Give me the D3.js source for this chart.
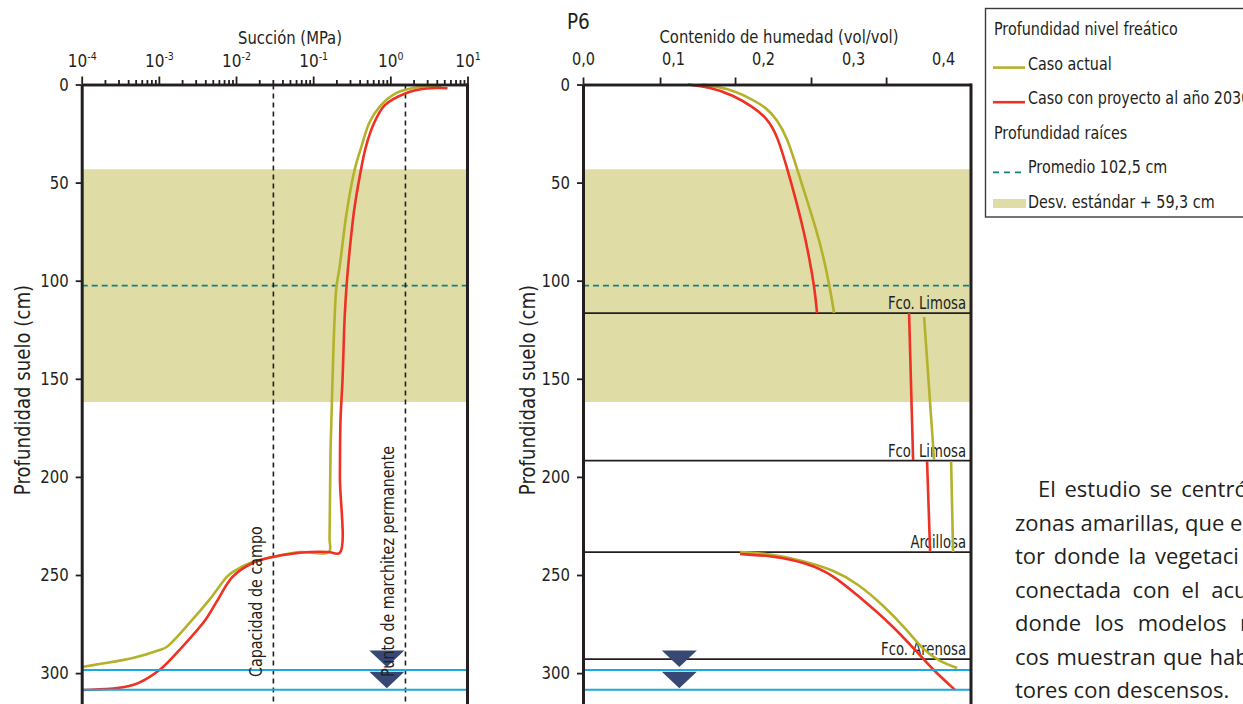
<!DOCTYPE html>
<html><head><meta charset="utf-8">
<script src="https://cdn.jsdelivr.net/npm/d3@7"></script>
<style>
html,body{margin:0;padding:0;background:#fff;overflow:hidden}
svg{display:block}
.nar{font-family:"Liberation Sans Narrow","Arial Narrow","DejaVu Sans Condensed",sans-serif;fill:#231f20}
.body{font-family:"Open Sans","Noto Sans",sans-serif;fill:#231f20}
</style></head><body>
<svg id="c" width="1243" height="704"></svg>
<script>
// ---------------- DATA ----------------
const depthTicks = [0, 50, 100, 150, 200, 250, 300];
const suctionDecadeExps = [-4, -3, -2, -1, 0, 1];
const moistureTickLabels = [0, 0.1, 0.2, 0.3, 0.4];
const moistureTickMarks = [0, 0.0856, 0.1689, 0.2533, 0.3367]; // tick marks as drawn in the figure
const depthMax = 316;
const suctionDomain = [1e-4, 10];
const moistureMax = 0.431;

const fieldCapacity = 0.0305;   // MPa
const wiltingPoint = 1.57;      // MPa
const rootMean = 102.5;         // cm
const rootSD = 59.3;            // cm
const waterTableActual = 298.4; // cm
const waterTableProject = 308.5;// cm
const markerSuction = 0.9;      // MPa, position of water-table symbols
const markerMoisture = 0.107;

const layerBounds = [116.5, 191.7, 238.3, 292.9];
const layerNames = ["Fco. Limosa", "Fco. Limosa", "Arcillosa", "Fco. Arenosa"];

// suction profile [MPa, depth cm]
const suctionActual = [[4.6,0.8],[2.39,1.3],[1.20,4.3],[0.72,11.5],[0.54,19.1],[0.42,31.9],[0.344,43.6],
  [0.271,65.5],[0.22,93.0],[0.20,103.2],[0.189,120],[0.178,150.6],[0.168,186],[0.163,231],[0.16,238.3],
  [0.067,238.3],[0.030,240.8],[0.0164,243.4],[0.0090,248.5],[0.0076,251],[0.0045,262.7],[0.0027,272.9],
  [0.00126,286.7],[0.00102,288.2],[0.00046,292.3],[0.00017,295.4],[0.0001,296.9]];
const suctionProject = [[5.5,1.9],[2.94,2.0],[1.62,4.3],[0.85,10.5],[0.61,20],[0.48,32],[0.40,47.1],
  [0.34,63.9],[0.30,82.8],[0.27,103.2],[0.255,120],[0.24,150.6],[0.226,171],[0.222,200],[0.22,238.8],
  [0.158,238.3],[0.09,238.3],[0.030,240.8],[0.0164,243.9],[0.0090,251],[0.0058,262.7],[0.0040,272.9],
  [0.0020,286.7],[0.00102,298.4],[0.00046,306.1],[0.0001,308.6]];

// moisture profile by soil layer [vol/vol, depth cm]
const moistureActual = [
  [[0.1322,0],[0.16,1.8],[0.1856,6.9],[0.2044,12.0],[0.2156,18.1],[0.2267,26.8],[0.2389,44.6],[0.2495,59.9],[0.2585,73.1],[0.2667,86.9],[0.2744,103.8],[0.2789,116.5]],
  [[0.3789,118.5],[0.39,191.4]],
  [[0.4089,191.9],[0.4111,238.3]],
  [[0.1744,238.3],[0.2111,239.3],[0.2489,243.4],[0.2778,247.4],[0.3044,254.1],[0.3333,265.3],[0.36,278],[0.3778,288.2],[0.3967,294.3],[0.4156,297.4]]
];
const moistureProject = [
  [[0.1167,0],[0.1411,1.3],[0.1667,5.4],[0.1889,11.5],[0.2044,17.1],[0.2156,25.7],[0.2267,42.6],[0.2372,59.9],[0.2455,75.2],[0.2522,90.5],[0.2572,103.8],[0.26,116.5]],
  [[0.3622,116.5],[0.3667,191.4]],
  [[0.3822,191.9],[0.3856,238.3]],
  [[0.1744,239.3],[0.2111,240.3],[0.2489,243.9],[0.2778,250],[0.3044,260.2],[0.3411,274.5],[0.3711,289.2],[0.3889,298.4],[0.4133,308.6]]
];

const legendItems = [
  {type:"head", label:"Profundidad nivel freático"},
  {type:"line", key:"actual", label:"Caso actual"},
  {type:"line", key:"project", label:"Caso con proyecto al año 2030"},
  {type:"head", label:"Profundidad raíces"},
  {type:"dash", key:"mean", label:"Promedio 102,5 cm"},
  {type:"band", key:"sd", label:"Desv. estándar + 59,3 cm"}
];
const bodyLines = ["El estudio se centró", "zonas amarillas, que e", "tor donde la vegetaci",
  "conectada con el acu", "donde los modelos n", "cos muestran que hab", "tores con descensos."];

// ---------------- STYLE ----------------
const INK = "#231f20", OLIVE = "#b4b12a", RED = "#ee3124", TEAL = "#17807f",
      BAND = "#dfdca6", BLUE = "#1ba8e0", NAVY = "#364873";
const bodyWordSpacing = [3, 0, 3, 6, 8, 1.5, 0];

// narrow the fallback font horizontally to mimic a condensed face
function condense(sel, k) {
  sel.each(function () {
    const L = this.getComputedTextLength();
    d3.select(this).attr("textLength", L * k).attr("lengthAdjust", "spacingAndGlyphs");
  });
}

const svg = d3.select("#c");
const y = d3.scaleLinear().domain([0, depthMax]).range([84.5, 84.5 + depthMax * 1.962]);
const xL = d3.scaleLog().domain(suctionDomain).range([81.7, 467.5]);
const xR = d3.scaleLinear().domain([0, moistureMax]).range([583, 971]);

function panel(g, x0, x1) {
  g.append("rect").attr("x", x0).attr("width", x1 - x0)
    .attr("y", y(rootMean - rootSD)).attr("height", y(rootMean + rootSD) - y(rootMean - rootSD))
    .attr("fill", BAND);
  g.append("line").attr("x1", x0).attr("x2", x1).attr("y1", y(rootMean)).attr("y2", y(rootMean))
    .attr("stroke", TEAL).attr("stroke-width", 1.8).attr("stroke-dasharray", "6,4");
}

// ===== LEFT PANEL =====
const gL = svg.append("g");
panel(gL, xL.range()[0], xL.range()[1]);
[fieldCapacity, wiltingPoint].forEach(v => {
  gL.append("line").attr("x1", xL(v)).attr("x2", xL(v)).attr("y1", y(0)).attr("y2", y(depthMax))
    .attr("stroke", INK).attr("stroke-width", 1.6).attr("stroke-dasharray", "5,4");
});
const lineL = d3.line().x(d => xL(d[0])).y(d => y(d[1])).curve(d3.curveCatmullRom.alpha(0.5));
gL.append("path").attr("d", lineL(suctionActual)).attr("fill", "none").attr("stroke", OLIVE).attr("stroke-width", 2.6);
gL.append("path").attr("d", lineL(suctionProject)).attr("fill", "none").attr("stroke", RED).attr("stroke-width", 2.6);

// ===== RIGHT PANEL =====
const gR = svg.append("g");
panel(gR, xR.range()[0], xR.range()[1]);
layerBounds.forEach((d, i) => {
  gR.append("line").attr("x1", xR.range()[0]).attr("x2", xR.range()[1]).attr("y1", y(d)).attr("y2", y(d))
    .attr("stroke", INK).attr("stroke-width", 1.8);
  gR.append("text").attr("class", "nar lay").attr("x", xR.range()[1] - 5).attr("y", y(d) - 4)
    .attr("text-anchor", "end").attr("font-size", 17.5).text(layerNames[i]);
});
const lineR = d3.line().x(d => xR(d[0])).y(d => y(d[1])).curve(d3.curveBasis);
moistureActual.forEach(seg => gR.append("path").attr("d", lineR(seg)).attr("fill", "none").attr("stroke", OLIVE).attr("stroke-width", 2.6));
moistureProject.forEach(seg => gR.append("path").attr("d", lineR(seg)).attr("fill", "none").attr("stroke", RED).attr("stroke-width", 2.6));

// water tables + markers for both panels
[[gL, xL, markerSuction], [gR, xR, markerMoisture]].forEach(([g, x, m]) => {
  [waterTableActual, waterTableProject].forEach(wt => {
    g.append("line").attr("x1", x.range()[0]).attr("x2", x.range()[1]).attr("y1", y(wt)).attr("y2", y(wt))
      .attr("stroke", BLUE).attr("stroke-width", 2);
  });
  [waterTableActual, waterTableProject].forEach((wt, i) => {
    const cx = x(m), ay = y(wt) - (i === 0 ? 3 : 1.5);
    g.append("path").attr("d", `M${cx - 17.5},${ay - 16.5}L${cx + 17.5},${ay - 16.5}L${cx},${ay}Z`).attr("fill", NAVY);
  });
});

// rotated reference labels
[[fieldCapacity, "Capacidad de campo"], [wiltingPoint, "Punto de marchitez permanente"]].forEach(([v, t]) => {
  const bx = xL(v) - 11, by = y(302);
  gL.append("text").attr("class", "nar rot").attr("font-size", 18.5)
    .attr("transform", `translate(${bx},${by}) rotate(-90)`).text(t);
});

// ===== AXES =====
function styleAxis(sel, w) {
  sel.select(".domain").attr("stroke", INK).attr("stroke-width", w);
  sel.selectAll(".tick line").attr("stroke", INK).attr("stroke-width", 1.8);
  sel.selectAll("text").attr("class", "nar tk").attr("fill", INK).style("font-family", null);
}
[xL, xR].forEach(x => {
  const a = svg.append("g").attr("transform", `translate(${x.range()[0]},0)`)
    .call(d3.axisLeft(y).tickValues(depthTicks).tickSize(6).tickSizeOuter(0).tickPadding(7));
  a.attr("font-size", 18).attr("font-family", null);
  styleAxis(a, 3);
  svg.append("line").attr("x1", x.range()[1]).attr("x2", x.range()[1]).attr("y1", y(0) - 1).attr("y2", y(depthMax))
    .attr("stroke", INK).attr("stroke-width", 3);
});

// left top log axis
const minorTicks = [];
suctionDecadeExps.slice(0, -1).forEach(e => { for (let m = 2; m <= 9; m++) minorTicks.push(m * Math.pow(10, e)); });
const decades = suctionDecadeExps.map(e => Math.pow(10, e));
const axMinor = svg.append("g").attr("transform", `translate(0,${y(0)})`)
  .call(d3.axisTop(xL).tickValues(minorTicks).tickSize(4.5).tickSizeOuter(0).tickFormat(""));
styleAxis(axMinor, 2.6);
const axMajor = svg.append("g").attr("transform", `translate(0,${y(0)})`)
  .call(d3.axisTop(xL).tickValues(decades).tickSize(8).tickSizeOuter(0).tickPadding(10).tickFormat(""));
styleAxis(axMajor, 2.6);
axMajor.selectAll(".tick text").attr("class", "nar").attr("font-size", 17).each(function (d) {
  const t = d3.select(this);
  t.append("tspan").text("10");
  t.append("tspan").attr("dy", -7).attr("font-size", 10.5).text(String(Math.round(Math.log10(d))));
});
svg.append("text").attr("class", "nar ttl").attr("x", 290).attr("y", 44).attr("text-anchor", "middle")
  .attr("font-size", 18.5).text("Succión (MPa)");

// right top axis
const fmtComma = d => d3.format(".1f")(d).replace(".", ",");
const axRlab = svg.append("g").attr("transform", `translate(0,${y(0)})`)
  .call(d3.axisTop(xR).tickValues(moistureTickLabels).tickSize(0).tickSizeOuter(0).tickPadding(20).tickFormat(fmtComma));
axRlab.attr("font-size", 17.5).attr("font-family", null);
styleAxis(axRlab, 2.6);
const axRtick = svg.append("g").attr("transform", `translate(0,${y(0)})`)
  .call(d3.axisTop(xR).tickValues(moistureTickMarks).tickSize(7).tickSizeOuter(0).tickFormat(""));
styleAxis(axRtick, 2.6);
svg.append("text").attr("class", "nar ttl").attr("x", 779).attr("y", 43).attr("text-anchor", "middle")
  .attr("font-size", 18.5).text("Contenido de humedad (vol/vol)");
svg.append("text").attr("class", "nar").attr("x", 567).attr("y", 29).attr("font-size", 20.5).text("P6");

// y-axis titles
[[30, 390], [535, 390]].forEach(([bx, by]) => {
  svg.append("text").attr("class", "nar ytl").attr("font-size", 21).attr("text-anchor", "middle")
    .attr("transform", `translate(${bx},${by}) rotate(-90)`).text("Profundidad suelo (cm)");
});

// ===== LEGEND =====
const lg = svg.append("g");
lg.append("rect").attr("x", 985.5).attr("y", 8.5).attr("width", 300).attr("height", 208.5)
  .attr("fill", "#fff").attr("stroke", "#3b3b3b").attr("stroke-width", 1.4);
legendItems.forEach((it, i) => {
  const base = 35 + i * 34.6;
  if (it.type === "head") {
    lg.append("text").attr("class", "nar lgt").attr("x", 994).attr("y", base).attr("font-size", 18).text(it.label);
    return;
  }
  if (it.type === "line") {
    lg.append("line").attr("x1", 993).attr("x2", 1025).attr("y1", base - 2).attr("y2", base - 2)
      .attr("stroke", it.key === "actual" ? OLIVE : RED).attr("stroke-width", 2.6);
  } else if (it.type === "dash") {
    lg.append("line").attr("x1", 993).attr("x2", 1025).attr("y1", base - 1).attr("y2", base - 1)
      .attr("stroke", TEAL).attr("stroke-width", 1.8).attr("stroke-dasharray", "6,5");
  } else {
    lg.append("rect").attr("x", 993).attr("y", base - 9).attr("width", 33).attr("height", 9).attr("fill", BAND);
  }
  lg.append("text").attr("class", "nar lgt").attr("x", 1028).attr("y", base).attr("font-size", 18).text(it.label);
});

// ===== BODY TEXT =====
bodyLines.forEach((t, i) => {
  svg.append("text").attr("class", "body").attr("x", i === 0 ? 1038 : 1015).attr("y", 497 + i * 33.5)
    .attr("font-size", 22).attr("word-spacing", bodyWordSpacing[i]).text(t);
});

// condense narrow text to match the reference widths
condense(svg.selectAll("text.ttl"), 0.89);
condense(svg.selectAll("text.lgt"), 0.885);
condense(svg.selectAll("text.lay"), 0.84);
condense(svg.selectAll("text.rot"), 0.86);
condense(svg.selectAll("text.ytl"), 0.96);
condense(svg.selectAll("text.tk"), 0.92);
</script>
</body></html>
